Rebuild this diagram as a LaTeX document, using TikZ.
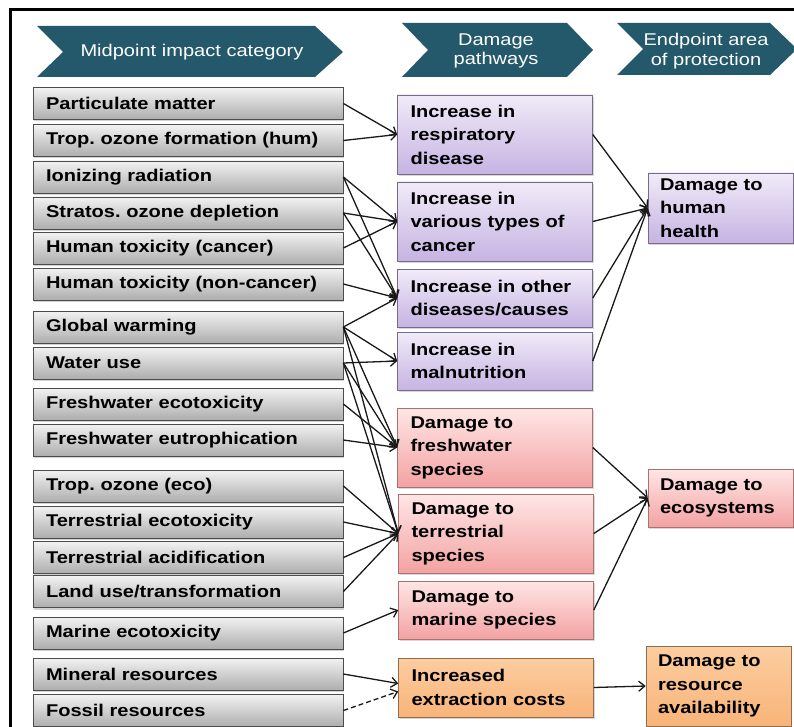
\documentclass[tikz,border=0pt]{standalone}
\usepackage{fontspec}
\setmainfont{Liberation Sans}[FakeStretch=1.18]
\usetikzlibrary{arrows.meta,shadows}
\frenchspacing
\definecolor{headteal}{HTML}{23596A}
\definecolor{lilac}{HTML}{C6B3E2}
\definecolor{lilaclight}{HTML}{F1EBF8}
\definecolor{rose}{HTML}{F3A2A2}
\definecolor{roselight}{HTML}{FFE6E6}
\definecolor{apricot}{HTML}{F8B479}
\definecolor{apricotlight}{HTML}{FCCDA0}

\begin{document}
\begin{tikzpicture}[x=1pt,y=-1pt,
    midpoint/.style ={draw=black!70, line width=0.8pt, top color=black!5, bottom color=black!32,
       minimum width=310pt, minimum height=32pt, text width=284pt, inner xsep=13pt, inner ysep=2pt,
       align=left, font=\fontsize{17}{20}\selectfont\bfseries,
       drop shadow={shadow xshift=1pt, shadow yshift=-2pt, opacity=0.35}},
    pathway/.style ={line width=0.6pt, text width=169pt, inner xsep=13pt, inner ysep=3pt,
       align=left, font=\fontsize{17}{23.5}\selectfont\bfseries,
       drop shadow={shadow xshift=1pt, shadow yshift=-2pt, opacity=0.3}},
    endpoint/.style ={pathway, text width=121pt, inner xsep=12pt},
    human/.style ={draw=lilac!60!black, top color=lilaclight, bottom color=lilac},
    eco/.style ={draw=rose!70!black, top color=roselight, bottom color=rose},
    resource/.style ={draw=apricot!60!black, top color=apricotlight, bottom color=apricot},
    headtext/.style ={text=white, align=center, font=\fontsize{17}{19.5}\selectfont},
    link/.style ={line width=1.3pt, black!90, -{Straight Barb[length=6pt,width=10pt]}}]
   \useasboundingbox (0,0) rectangle (794,727);
   \fill[white] (0,0) rectangle (794,727);
   \draw[line width=3pt] (10,727) -- (10,9.5) -- (794,9.5);

   \fill[headteal] (37,26) -- (315,26) -- (343,52) -- (315,77) -- (37,77) -- (63,52) -- cycle;
   \fill[headteal] (402,23) -- (567,23) -- (593,50) -- (567,77) -- (402,77) -- (428,50) -- cycle;
   \fill[headteal] (617,23) -- (770,23) -- (797,49) -- (770,75) -- (617,75) -- (643,49) -- cycle;
   \node[headtext] (midhead) at (192,52) {Midpoint impact category};
   \node[headtext] (pathhead) at (496,51) {Damage\\pathways};
   \node[headtext] (endhead) at (706,51) {Endpoint area\\of protection};

   \node[midpoint] (pm)      at (188,103.5) {Particulate matter};
   \node[midpoint] (ozhum)   at (188,140.5) {Trop. ozone formation (hum)};
   \node[midpoint] (ion)     at (188,177)   {Ionizing radiation};
   \node[midpoint] (strat)   at (188,213)   {Stratos. ozone depletion};
   \node[midpoint] (htc)     at (188,248)   {Human toxicity (cancer)};
   \node[midpoint] (htnc)    at (188,284)   {Human toxicity (non-cancer)};
   \node[midpoint] (gw)      at (188,327)   {Global warming};
   \node[midpoint] (water)   at (188,363)   {Water use};
   \node[midpoint] (fwtox)   at (188,404)   {Freshwater ecotoxicity};
   \node[midpoint] (fweut)   at (188,440)   {Freshwater eutrophication};
   \node[midpoint] (ozeco)   at (188,486)   {Trop. ozone (eco)};
   \node[midpoint] (terrtox) at (188,522)   {Terrestrial ecotoxicity};
   \node[midpoint] (acid)    at (188,557.5) {Terrestrial acidification};
   \node[midpoint] (land)    at (188,591.5) {Land use/transformation};
   \node[midpoint] (martox)  at (188,633)   {Marine ecotoxicity};
   \node[midpoint] (mineral) at (188,674)   {Mineral resources};
   \node[midpoint] (fossil)  at (188,710.5) {Fossil resources};

   \node[pathway,human,minimum height=79pt] (resp)    at (495,134.5) {Increase in\\respiratory\\disease};
   \node[pathway,human,minimum height=79pt] (cancer)  at (495,221.5) {Increase in\\various types of\\cancer};
   \node[pathway,human,minimum height=58pt] (other)   at (495,298)   {Increase in other\\diseases/causes};
   \node[pathway,human,minimum height=58pt] (malnut)  at (495,361)   {Increase in\\malnutrition};
   \node[pathway,eco,minimum height=79pt] (fresh)     at (495,447.5) {Damage to\\freshwater\\species};
   \node[pathway,eco,minimum height=79pt] (terr)      at (496,533.5) {Damage to\\terrestrial\\species};
   \node[pathway,eco,minimum height=58pt] (marine)    at (496,610)   {Damage to\\marine species};
   \node[pathway,resource,minimum height=59pt] (extract) at (496,687.5) {Increased\\extraction costs};

   \node[endpoint,human,minimum height=70pt] (health)  at (720.5,208) {Damage to\\human\\health};
   \node[endpoint,eco,minimum height=58pt] (ecosys)    at (720.5,498) {Damage to\\ecosystems};
   \node[endpoint,resource,minimum height=80pt] (avail) at (718.5,686) {Damage to\\resource\\availability};

   \draw[link] (pm.east) to (resp.west);
   \draw[link] (ozhum.east) to (resp.west);
   \draw[link] (ion.east) to (cancer.west);
   \draw[link] (ion.east) to (other.west);
   \draw[link] (strat.east) to (cancer.west);
   \draw[link] (strat.east) to (other.west);
   \draw[link] (htc.east) to (cancer.west);
   \draw[link] (htnc.east) to (other.west);
   \draw[link] (gw.east) to (other.west);
   \draw[link] (gw.east) to (malnut.west);
   \draw[link] (gw.east) to (fresh.west);
   \draw[link] (gw.east) to (terr.west);
   \draw[link] (water.east) to (malnut.west);
   \draw[link] (water.east) to (fresh.west);
   \draw[link] (water.east) to (terr.west);
   \draw[link] (fwtox.east) to (fresh.west);
   \draw[link] (fweut.east) to (fresh.west);
   \draw[link] (ozeco.east) to (terr.west);
   \draw[link] (terrtox.east) to (terr.west);
   \draw[link] (acid.east) to (terr.west);
   \draw[link] (land.east) to (terr.west);
   \draw[link] (martox.east) to (marine.west);
   \draw[link] (mineral.east) to ([yshift=4pt]extract.west);
   \draw[link,dash pattern=on 5pt off 3pt] (fossil.east) to ([yshift=-4pt]extract.west);

   \draw[link] (resp.east) to (health.west);
   \draw[link] (cancer.east) to (health.west);
   \draw[link] (other.east) to (health.west);
   \draw[link] (malnut.east) to (health.west);
   \draw[link] (fresh.east) to (ecosys.west);
   \draw[link] (terr.east) to (ecosys.west);
   \draw[link] (marine.east) to (ecosys.west);
   \draw[link] (extract.east) to (avail.west);
 \end{tikzpicture}
\end{document}
